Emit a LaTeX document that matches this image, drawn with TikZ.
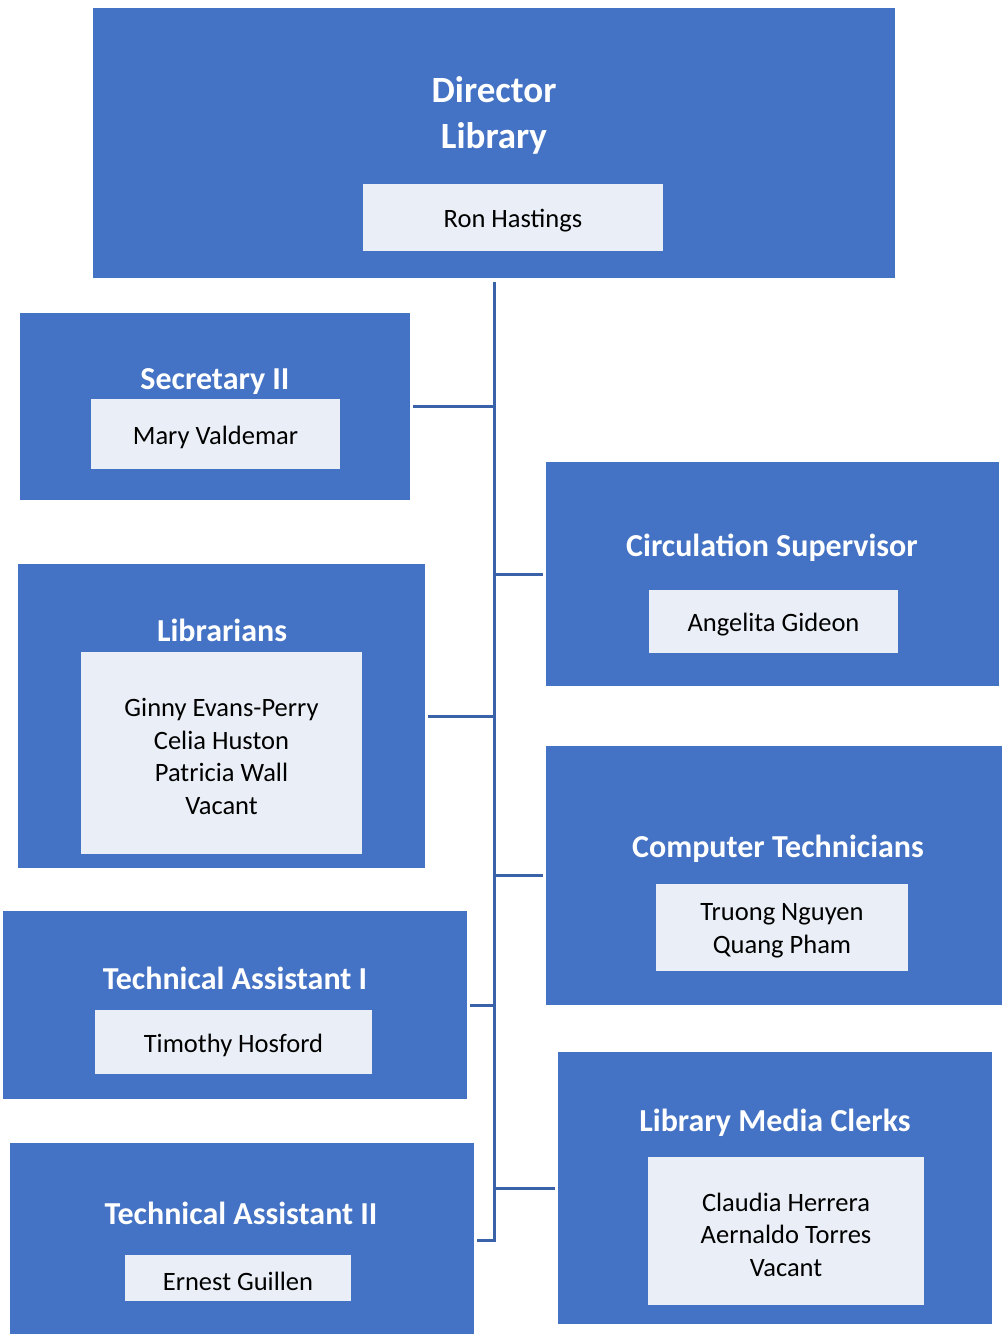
\documentclass[tikz,border=0pt]{standalone}
\usepackage{fontspec}
\setmainfont{Carlito}
\definecolor{boxblue}{HTML}{4472C4}
\definecolor{innerfill}{HTML}{EAEFF7}
\definecolor{linkblue}{HTML}{3A62A8}
\begin{document}
\begin{tikzpicture}[x=1pt,y=-1pt,
  outerbox/.style={fill=boxblue, draw=none, inner sep=0pt, outer sep=0pt, rectangle},
  innerbox/.style={fill=innerfill, draw=none, inner sep=0pt, outer sep=0pt, rectangle},
  innertext/.style={inner sep=0pt, align=center, text=black, font=\fontsize{26.5}{32.5}\selectfont},
  titletext/.style={text=white, font=\bfseries\fontsize{32}{38}\selectfont, inner sep=0pt, align=center},
  bigtitle/.style={text=white, font=\bfseries\fontsize{37}{46}\selectfont, inner sep=0pt, align=center},
  conn/.style={draw=linkblue, line width=3pt},
]
\useasboundingbox (0,0) rectangle (1002,1334);
\newcommand{\obox}[5]{\node[outerbox, minimum width={#4-#2}, minimum height={#5-#3}] (#1) at ({(#2+#4)/2},{(#3+#5)/2}) {};}
\newcommand{\ibox}[6]{\node[innerbox, minimum width={#4-#2}, minimum height={#5-#3}] (#1) at ({(#2+#4)/2},{(#3+#5)/2}) {};
  \node[innertext] (#1t) at ([yshift=-3.5pt]#1.center) {#6};}

% Director
\obox{dir}{93}{8}{895}{278}
\node[bigtitle] (dirt) at (494,115) {Director\\Library};
\ibox{diri}{363}{184}{663}{251}{Ron Hastings}

% Secretary II
\obox{sec}{20}{313}{410}{500}
\node[titletext] (sect) at (215,382) {Secretary II};
\ibox{seci}{91}{399}{340}{469}{Mary Valdemar}

% Circulation Supervisor
\obox{circ}{546}{462}{999}{686}
\node[titletext] (circt) at (772,548) {Circulation Supervisor};
\ibox{circi}{649}{590}{898}{653}{Angelita Gideon}

% Librarians
\obox{lib}{18}{564}{425}{868}
\node[titletext] (libt) at (222,630) {Librarians};
\ibox{libi}{81}{652}{362}{854}{Ginny Evans-Perry\\Celia Huston\\Patricia Wall\\Vacant}

% Computer Technicians
\obox{comp}{546}{746}{1002}{1005}
\node[titletext] (compt) at (778,849) {Computer Technicians};
\ibox{compi}{656}{884}{908}{971}{Truong Nguyen\\Quang Pham}

% Technical Assistant I
\obox{taone}{3}{911}{467}{1099}
\node[titletext] (taonet) at (235,978) {Technical Assistant I};
\ibox{taonei}{95}{1010}{372}{1074}{Timothy Hosford}

% Library Media Clerks
\obox{lmc}{558}{1052}{992}{1324}
\node[titletext] (lmct) at (775,1123) {Library Media Clerks};
\ibox{lmci}{648}{1157}{924}{1305}{Claudia Herrera\\Aernaldo Torres\\Vacant}

% Technical Assistant II
\obox{tatwo}{10}{1143}{474}{1334}
\node[titletext] (tatwot) at (241,1213) {Technical Assistant II};
\ibox{tatwoi}{125}{1255}{351}{1301}{Ernest Guillen}

% Connectors
\coordinate (trunk) at (494,282);
\draw[conn] (trunk) -- (trunk |- 0,1240) -- (tatwo.east |- 0,1240) [shorten >=3pt];
\draw[conn, shorten >=3pt] (trunk |- sec.east) -- (sec.east);
\draw[conn, shorten >=3pt] (trunk |- circ.west) -- (circ.west);
\draw[conn, shorten >=3pt] (trunk |- lib.east) -- (lib.east);
\draw[conn, shorten >=3pt] (trunk |- comp.west) -- (comp.west);
\draw[conn, shorten >=3pt] (trunk |- taone.east) -- (taone.east);
\draw[conn, shorten >=3pt] (trunk |- lmc.west) -- (lmc.west);
\end{tikzpicture}
\end{document}
